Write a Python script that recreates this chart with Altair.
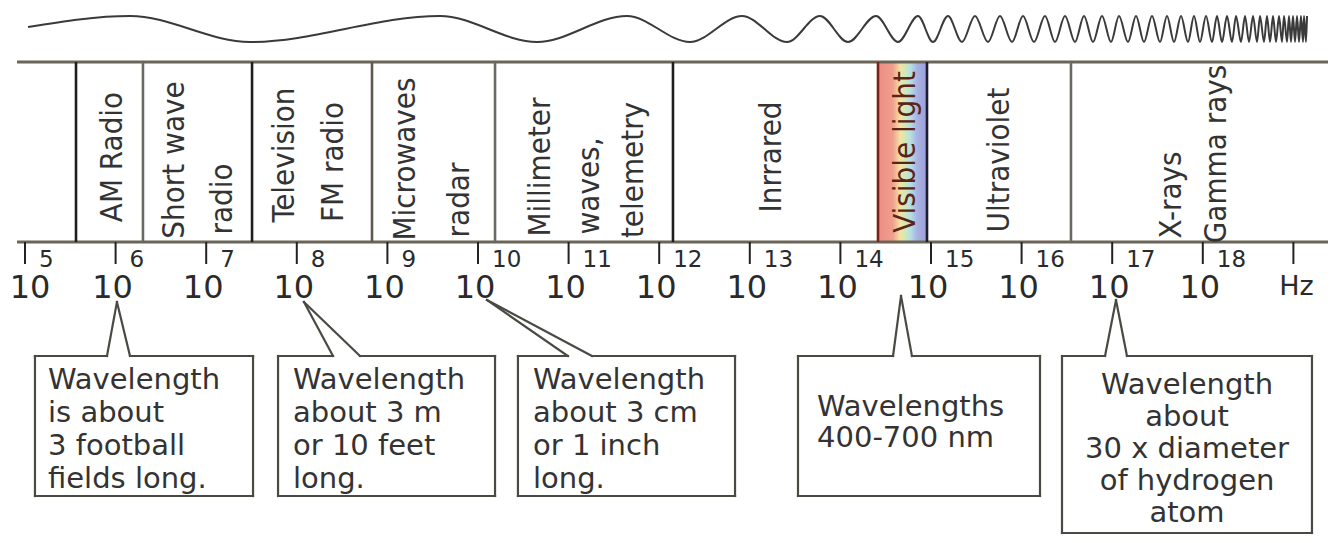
import altair as alt
import pandas as pd

# ---------------- data ----------------
# decade ticks of the frequency axis (10^n Hz); the last tick carries the unit
tick_exps = [5, 6, 7, 8, 9, 10, 11, 12, 13, 14, 15, 16, 17, 18]
tick_base = ["10"] * len(tick_exps)
tick_sup = ["5", "6", "7", "8", "9", "10", "11", "12", "13", "14", "15", "16", "17", "18"]
unit_exp = 19
unit_label = "Hz"

# band boundaries (log10 of frequency)
band_edges = [5.563, 6.302, 7.506, 8.830, 10.188, 12.152, 14.415, 14.956, 16.545]
edge_colors = ["#1e1e1e", "#6a6a64", "#1e1e1e", "#5e5a50", "#6a6a64",
               "#1e1e1e", "#7a2418", "#1a1a30", "#6a6a64"]
visible_band = (14.415, 14.956)

# band labels, one entry per printed line (position = log10 f, row)
band_text = ["AM Radio", "Short wave", "radio", "Television", "FM radio",
             "Microwaves", "radar", "Millimeter", "waves,", "telemetry",
             "Inrrared", "Visible light", "Ultraviolet", "X-rays", "Gamma rays"]
band_text_x = [5.971, 6.656, 7.185, 7.870, 8.411, 9.205, 9.801, 10.695, 11.236,
               11.722, 13.245, 14.724, 15.762, 17.660, 18.157]
band_text_row = [157, 160, 199, 155, 162, 159, 200, 167, 186, 170, 157, 152, 160, 195, 154]
band_text_color = ["#333333"] * 11 + ["#5b2418"] + ["#333333"] * 3

# callouts
callout_lines = [
    ["Wavelength", "is about", "3 football", "fields long."],
    ["Wavelength", "about 3 m", "or 10 feet", "long."],
    ["Wavelength", "about 3 cm", "or 1 inch", "long."],
    ["Wavelengths", "400-700 nm"],
    ["Wavelength", "about", "30 x diameter", "of hydrogen", "atom"],
]
callout_target = [6.015, 8.079, 10.099, 14.669, 17.042]     # frequency pointed at
callout_left = [5.110, 7.793, 10.441, 13.532, 16.446]
callout_right = [7.517, 10.188, 12.837, 16.203, 19.205]
callout_base_a = [5.905, 8.400, 10.993, 14.581, 16.921]
callout_base_b = [6.159, 8.698, 11.258, 14.790, 17.163]
callout_text_x = [5.254, 7.958, 10.607, 13.742, 17.826]
callout_align = ["left", "left", "left", "left", "center"]

# top wave: x of start point, then alternating crests / troughs (page pixels)
wave_px = [28, 130, 250, 440, 537, 627, 690, 742, 787, 820, 848, 876, 898, 918,
           933, 948, 962, 975, 988, 1000, 1012, 1023, 1034, 1045, 1055, 1065,
           1075, 1084, 1093, 1102, 1111, 1119, 1128, 1136, 1144, 1152, 1160,
           1167, 1174, 1181, 1188, 1194, 1200, 1206, 1212, 1217, 1222, 1227,
           1232, 1236, 1241, 1245, 1249, 1253, 1257, 1260, 1264, 1267, 1270,
           1273, 1276, 1279, 1282, 1284, 1287, 1289, 1291, 1293, 1295, 1297,
           1299, 1301, 1303, 1304, 1306, 1307]

# ---------------- layout ----------------
W, H = 1320, 527
PX_PER_DECADE = 90.6
X0 = 5 - 17 / PX_PER_DECADE
X1 = 5 + 1303 / PX_PER_DECADE
LINE_START = 4.912
TOP_ROW, AXIS_ROW = 62, 242
TICK_END_ROW = 264
BOX_TOP = 356
box_bottom = [496, 496, 496, 496, 533]
tip_row = [302, 302, 300, 296, 300]
first_line_row = [380, 380, 380, 407, 385]
line_step = [33, 33, 33, 31, 32]
CREST, TROUGH, START_ROW = 16, 42, 27
# horizontal nudge of each "10" (pixels); the first one sits against the edge
base_nudge_px = [5, -3, -3, -3, -3, -3, -3, -3, -3, -3, -3, -3, -3, -3]


def px_to_exp(p):
    return 5 + (p - 25) / PX_PER_DECADE


xs = alt.Scale(domain=[X0, X1], nice=False, zero=False)
ys = alt.Scale(domain=[535, 8], nice=False, zero=False)


def X(f="x"):
    return alt.X(f"{f}:Q", scale=xs, axis=None)


def Y(f="y"):
    return alt.Y(f"{f}:Q", scale=ys, axis=None)


NARROW = "'Liberation Sans Narrow', 'DejaVu Sans Condensed', 'Arial Narrow', sans-serif"
WIDE = "'DejaVu Sans', Verdana, sans-serif"

# wave
wave_rows = []
for i, p in enumerate(wave_px):
    if i == 0:
        r = START_ROW
    else:
        r = CREST if i % 2 == 1 else TROUGH
    wave_rows.append({"x": px_to_exp(p), "y": r, "i": i})
wave = alt.Chart(pd.DataFrame(wave_rows)).mark_line(
    interpolate="monotone", color="#3a3a3a", strokeWidth=2
).encode(x=X(), y=Y(), order="i:Q")

# horizontal frame lines
hl = pd.DataFrame({"x": [LINE_START, LINE_START], "x2": [X1, X1], "y": [TOP_ROW, AXIS_ROW]})
hlines = alt.Chart(hl).mark_rule(color="#6b6558", strokeWidth=3).encode(
    x=X(), x2="x2:Q", y=Y())

# visible light gradient band
vis = pd.DataFrame({"x": [visible_band[0]], "x2": [visible_band[1]],
                    "y": [TOP_ROW], "y2": [AXIS_ROW]})
grad = alt.LinearGradient(
    gradient="linear", x1=0, x2=1, y1=0, y2=0,
    stops=[alt.GradientStop(color="#ec8e84", offset=0),
           alt.GradientStop(color="#ef9e8e", offset=0.3),
           alt.GradientStop(color="#f5e2a2", offset=0.45),
           alt.GradientStop(color="#d2e9b6", offset=0.55),
           alt.GradientStop(color="#b6dfe6", offset=0.66),
           alt.GradientStop(color="#a8b2e2", offset=0.8),
           alt.GradientStop(color="#9a9ed8", offset=1)])
visrect = alt.Chart(vis).mark_rect(fill=grad).encode(x=X(), x2="x2:Q", y=Y(), y2="y2:Q")

# band boundary lines
bl = pd.DataFrame({"x": band_edges, "c": edge_colors,
                   "y": [TOP_ROW] * len(band_edges), "y2": [AXIS_ROW] * len(band_edges)})
blines = alt.Chart(bl).mark_rule(strokeWidth=2.6).encode(
    x=X(), y=Y(), y2="y2:Q", color=alt.Color("c:N", scale=None))

# band labels
btxt = pd.DataFrame({"x": band_text_x, "y": band_text_row, "t": band_text, "c": band_text_color})
blabels = alt.Chart(btxt).mark_text(
    angle=270, align="center", baseline="middle", font=NARROW, fontSize=31
).encode(x=X(), y=Y(), text="t:N", color=alt.Color("c:N", scale=None))

# ticks
tk = pd.DataFrame({"x": tick_exps + [unit_exp],
                   "y": [AXIS_ROW] * (len(tick_exps) + 1),
                   "y2": [TICK_END_ROW] * (len(tick_exps) + 1)})
ticks = alt.Chart(tk).mark_rule(color="#222222", strokeWidth=2).encode(x=X(), y=Y(), y2="y2:Q")

base_df = pd.DataFrame({
    "x": [e + d / PX_PER_DECADE for e, d in zip(tick_exps, base_nudge_px)],
    "y": [298] * len(tick_exps), "t": tick_base})
base_txt = alt.Chart(base_df).mark_text(
    align="center", baseline="alphabetic", font=WIDE, fontSize=32, color="#2a2a2a"
).encode(x=X(), y=Y(), text="t:N")
sup_df = pd.DataFrame({"x": tick_exps, "y": [267] * len(tick_exps), "t": tick_sup})
sup_txt = alt.Chart(sup_df).mark_text(
    align="left", baseline="alphabetic", dx=14, font=WIDE, fontSize=23, color="#2a2a2a"
).encode(x=X(), y=Y(), text="t:N")
unit_df = pd.DataFrame({"x": [unit_exp], "y": [295], "t": [unit_label]})
unit_txt = alt.Chart(unit_df).mark_text(
    align="center", baseline="alphabetic", dx=3, font=WIDE, fontSize=27, color="#2a2a2a"
).encode(x=X(), y=Y(), text="t:N")

# callout boxes as segments
segs = []
for k in range(len(callout_lines)):
    L, R = callout_left[k], callout_right[k]
    T, B = BOX_TOP, box_bottom[k]
    a, b = callout_base_a[k], callout_base_b[k]
    tx, ty = callout_target[k], tip_row[k]
    segs += [
        {"x": L, "y": T, "x2": L, "y2": B},
        {"x": R, "y": T, "x2": R, "y2": B},
        {"x": L, "y": B, "x2": R, "y2": B},
        {"x": L, "y": T, "x2": a, "y2": T},
        {"x": b, "y": T, "x2": R, "y2": T},
        {"x": a, "y": T, "x2": tx, "y2": ty},
        {"x": b, "y": T, "x2": tx, "y2": ty},
    ]
boxes = alt.Chart(pd.DataFrame(segs)).mark_rule(
    color="#4a4a44", strokeWidth=2.2, strokeCap="square"
).encode(x=X(), y=Y(), x2="x2:Q", y2="y2:Q")

left_rows, center_rows = [], []
for k, lines in enumerate(callout_lines):
    for j, line in enumerate(lines):
        row = {"x": callout_text_x[k], "y": first_line_row[k] + j * line_step[k], "t": line}
        (center_rows if callout_align[k] == "center" else left_rows).append(row)
ctext_l = alt.Chart(pd.DataFrame(left_rows)).mark_text(
    align="left", baseline="middle", font=WIDE, fontSize=29, color="#333333"
).encode(x=X(), y=Y(), text="t:N")
ctext_c = alt.Chart(pd.DataFrame(center_rows)).mark_text(
    align="center", baseline="middle", font=WIDE, fontSize=29, color="#333333"
).encode(x=X(), y=Y(), text="t:N")

chart = alt.layer(
    wave, visrect, hlines, blines, blabels, ticks, base_txt, sup_txt, unit_txt,
    boxes, ctext_l, ctext_c
).properties(
    width=W, height=H,
    autosize=alt.AutoSizeParams(type="none"),
    padding=0, background="white"
).configure_view(stroke=None)

chart.save("out.html", embed_options={"renderer": "svg", "actions": False})
